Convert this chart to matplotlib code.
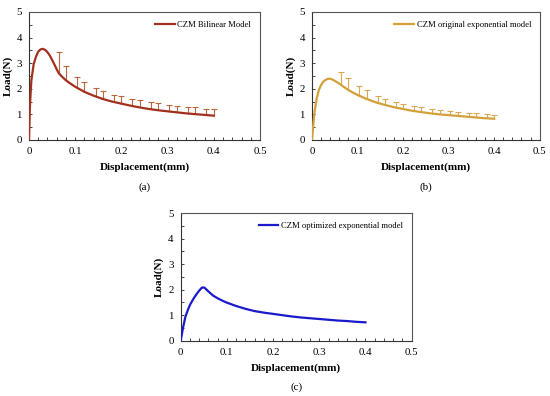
import matplotlib
matplotlib.use("Agg")
import matplotlib.pyplot as plt
from matplotlib.ticker import MultipleLocator
import numpy as np

plt.rcParams['font.family'] = ['Liberation Serif', 'DejaVu Serif']

# ---- data ----
# (a) CZM Bilinear Model
a_x = [0, 0.002, 0.005, 0.01, 0.015, 0.02, 0.025, 0.03, 0.035, 0.04, 0.045, 0.05, 0.055,
       0.06, 0.064, 0.07, 0.08, 0.09, 0.10, 0.12, 0.14, 0.16, 0.18, 0.20, 0.22, 0.24,
       0.26, 0.28, 0.30, 0.32, 0.34, 0.36, 0.38, 0.40]
a_y = [0, 1.3, 2.3, 2.95, 3.25, 3.45, 3.54, 3.56, 3.52, 3.43, 3.3, 3.13, 2.95,
       2.76, 2.62, 2.5, 2.33, 2.2, 2.08, 1.88, 1.73, 1.6, 1.5, 1.42, 1.34, 1.27,
       1.21, 1.16, 1.12, 1.08, 1.04, 1.01, 0.98, 0.95]
err_x = [0.064, 0.08, 0.104, 0.12, 0.144, 0.16, 0.184, 0.20, 0.224, 0.24,
         0.264, 0.28, 0.304, 0.32, 0.344, 0.36, 0.384, 0.40]
a_err_top = [3.43, 2.90, 2.45, 2.26, 2.05, 1.93, 1.76, 1.70, 1.61, 1.55,
             1.48, 1.44, 1.38, 1.34, 1.29, 1.27, 1.23, 1.21]

# (b) CZM original exponential model
b_x = [0, 0.003, 0.006, 0.01, 0.015, 0.02, 0.025, 0.03, 0.035, 0.04, 0.045, 0.05, 0.06,
       0.07, 0.08, 0.09, 0.10, 0.12, 0.14, 0.16, 0.18, 0.20, 0.22, 0.24, 0.26, 0.28,
       0.30, 0.32, 0.34, 0.36, 0.38, 0.40]
b_y = [0, 0.65, 1.15, 1.6, 1.95, 2.15, 2.28, 2.35, 2.39, 2.39, 2.36, 2.31, 2.2,
       2.07, 1.95, 1.85, 1.76, 1.6, 1.47, 1.37, 1.28, 1.21, 1.14, 1.09, 1.04, 1.0,
       0.97, 0.94, 0.91, 0.88, 0.85, 0.83]
b_err_top = [2.64, 2.44, 2.10, 1.94, 1.70, 1.60, 1.47, 1.40, 1.32, 1.29,
             1.22, 1.18, 1.13, 1.10, 1.05, 1.04, 1.00, 0.99]

# (c) CZM optimized exponential model
c_x = [0, 0.005, 0.01, 0.015, 0.02, 0.025, 0.03, 0.035, 0.04, 0.045, 0.048, 0.052, 0.056,
       0.06, 0.065, 0.07, 0.08, 0.09, 0.10, 0.12, 0.14, 0.16, 0.18, 0.20, 0.22, 0.24,
       0.26, 0.28, 0.30, 0.32, 0.34, 0.36, 0.38, 0.40]
c_y = [0, 0.5, 0.92, 1.18, 1.4, 1.56, 1.71, 1.84, 1.96, 2.06, 2.09, 2.07, 2.0,
       1.93, 1.85, 1.77, 1.66, 1.57, 1.49, 1.36, 1.25, 1.16, 1.1, 1.05, 1.0, 0.95,
       0.91, 0.88, 0.85, 0.82, 0.79, 0.77, 0.74, 0.72]

x_ticks = [0, 0.1, 0.2, 0.3, 0.4, 0.5]
x_tick_labels = ['0', '0.1', '0.2', '0.3', '0.4', '0.5']
y_ticks = [0, 1, 2, 3, 4, 5]

panels = [
    dict(x=a_x, y=a_y, top=a_err_top, color='#A2301E', ecolor='#B8673C',
         label='CZM Bilinear Model', caption='(a)',
         rect=[0.0527, 0.6465, 0.420, 0.3232]),
    dict(x=b_x, y=b_y, top=b_err_top, color='#D2A13A', ecolor='#DCA752',
         label='CZM original exponential model', caption='(b)',
         rect=[0.5673, 0.6465, 0.4140, 0.3232]),
    dict(x=c_x, y=c_y, top=None, color='#1A1ACC', ecolor=None,
         label='CZM optimized exponential model', caption='(c)',
         rect=[0.3285, 0.1396, 0.4200, 0.3225]),
]

fig = plt.figure(figsize=(5.5, 3.96), dpi=100)

for p in panels:
    ax = fig.add_axes(p['rect'])
    ax.plot(p['x'], p['y'], color=p['color'], lw=1.6, label=p['label'], zorder=3)
    if p['top'] is not None:
        base = np.interp(err_x, p['x'], p['y'])
        ax.vlines(err_x, base, p['top'], color=p['ecolor'], lw=0.8, zorder=2)
        ax.plot(err_x, p['top'], linestyle='none', marker='_', markersize=5,
                markeredgewidth=0.8, color=p['ecolor'], zorder=2)
    ax.set_xlim(0, 0.5)
    ax.set_ylim(0, 5)
    ax.set_xticks(x_ticks)
    ax.set_xticklabels(x_tick_labels)
    ax.set_yticks(y_ticks)
    ax.xaxis.set_minor_locator(MultipleLocator(0.02))
    ax.yaxis.set_minor_locator(MultipleLocator(0.5))
    ax.tick_params(which='both', direction='in', labelsize=7.8, pad=5,
                   color='#444444', length=2.5, width=0.7,
                   top=False, right=False)
    for s in ax.spines.values():
        s.set_linewidth(0.8)
        s.set_color('#555555')
    ax.spines['bottom'].set_color('#333333')
    ax.spines['left'].set_color('#333333')
    ax.set_xlabel('Displacement(mm)', fontsize=8, fontweight='bold', labelpad=5)
    ax.set_ylabel('Load(N)', fontsize=8, fontweight='bold', labelpad=3)
    ax.legend(loc='upper right', frameon=False, fontsize=6.2, handlelength=2.3,
              handletextpad=0.3, borderaxespad=0.6)
    ax.text(0.5, -0.33, p['caption'], transform=ax.transAxes, ha='center',
            va='top', fontsize=8)

fig.savefig('out.png', dpi=100)
